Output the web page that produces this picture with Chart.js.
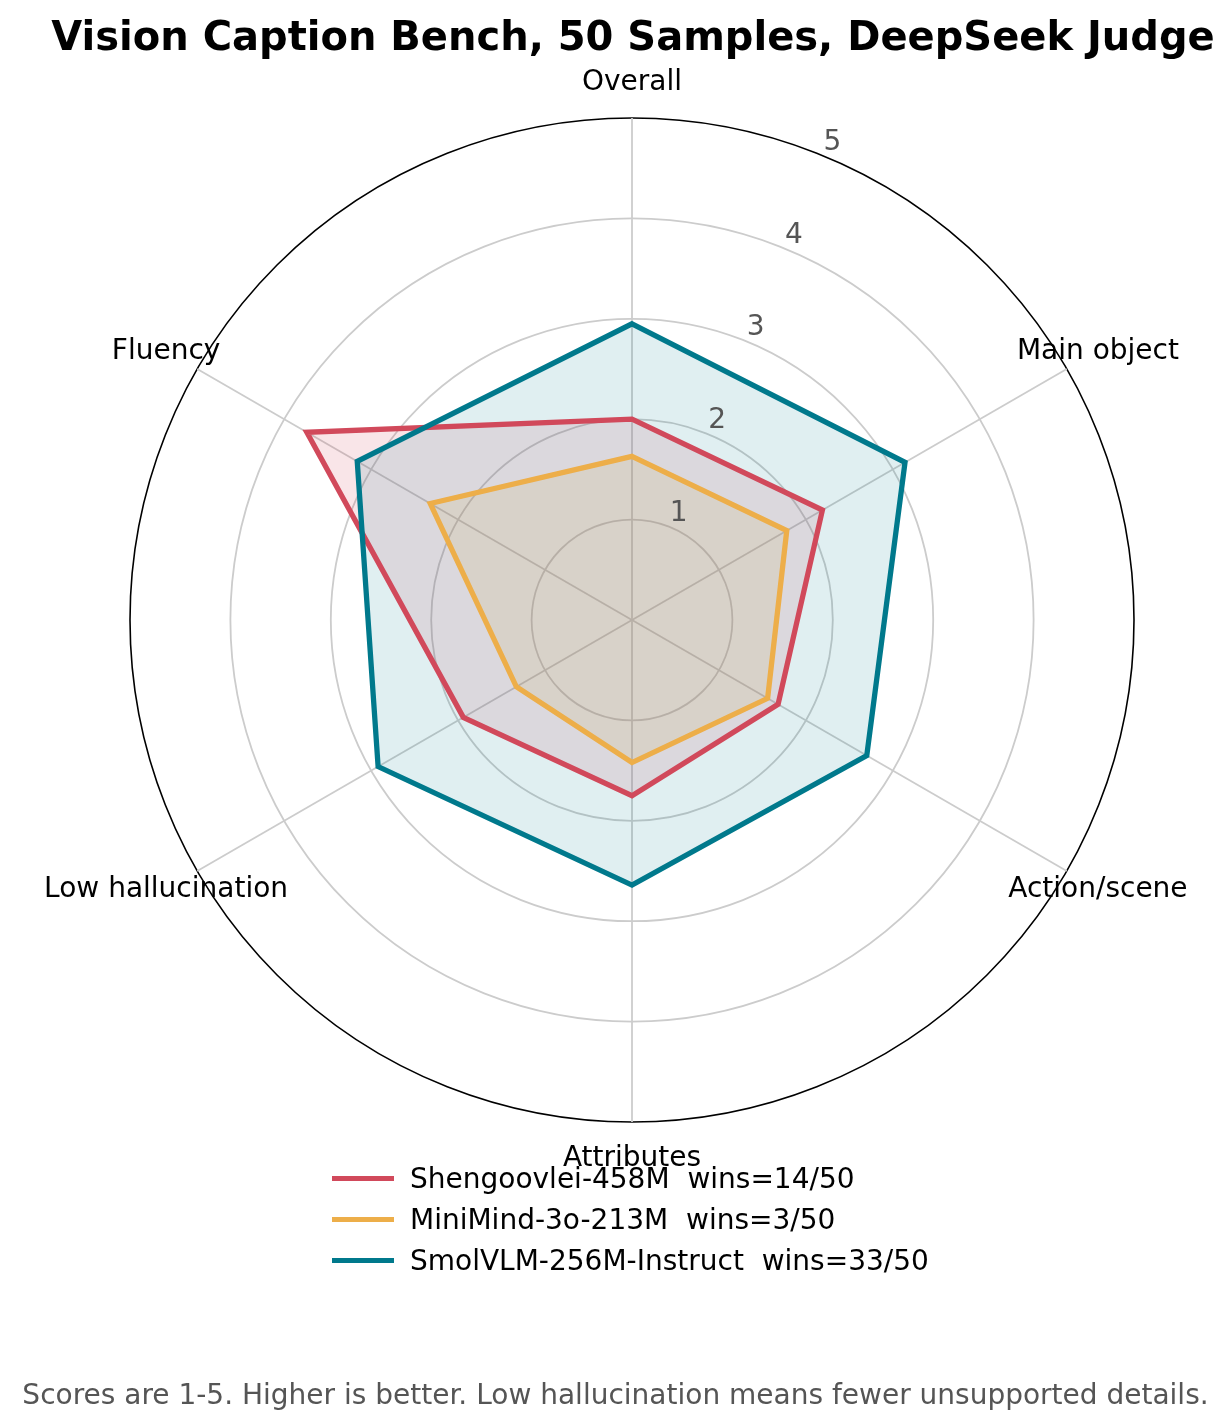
<!DOCTYPE html>
<html>
<head>
<meta charset="utf-8">
<script src="https://cdn.jsdelivr.net/npm/chart.js@4.4.1/dist/chart.umd.min.js"></script>
<style>
  body { margin: 0; background: #fff; font-family: "DejaVu Sans", sans-serif; }
  #wrap { position: relative; width: 1231px; height: 1428px; overflow: hidden; }
  #title { position: absolute; left: 0; width: 1266px; top: 12px; text-align: center; font-weight: bold; font-size: 40px; line-height: 48px; color: #000; white-space: nowrap; }
  #legend { position: absolute; left: 332px; top: 1158px; font-size: 28px; color: #000; }
  .row { height: 41px; display: flex; align-items: center; white-space: pre; }
  .swatch { width: 62px; height: 5px; margin-right: 16px; }
  #footer { position: absolute; left: 0; width: 1231px; top: 1378px; text-align: center; font-size: 28px; line-height: 34px; color: #555; white-space: nowrap; }
</style>
</head>
<body>
<div id="wrap">
  <div id="title">Vision Caption Bench, 50 Samples, DeepSeek Judge</div>
  <canvas id="radar" width="1231" height="1428"></canvas>
  <div id="legend"></div>
  <div id="footer">Scores are 1-5. Higher is better. Low hallucination means fewer unsupported details.</div>
</div>
<script>
const categories = ["Overall", "Main object", "Action/scene", "Attributes", "Low hallucination", "Fluency"];
const modelNames = ["Shengoovlei-458M  wins=14/50", "MiniMind-3o-213M  wins=3/50", "SmolVLM-256M-Instruct  wins=33/50"];
const shengoovleiScores = [2.0, 2.19, 1.68, 1.75, 1.94, 3.74];
const miniMindScores = [1.63, 1.78, 1.56, 1.42, 1.33, 2.32];
const smolVlmScores = [2.95, 3.14, 2.70, 2.64, 2.92, 3.16];
const tickValues = [1, 2, 3, 4, 5];

const colors = ["#d1495b", "#edae49", "#00798c"];
const fills = ["rgba(209,73,91,0.14)", "rgba(237,174,73,0.14)", "rgba(0,121,140,0.12)"];
const series = [shengoovleiScores, miniMindScores, smolVlmScores];

// labels de ticks y ejes dibujados a mano, estilo matplotlib
const polarLabels = {
  id: "polarLabels",
  afterDatasetsDraw(chart) {
    const scale = chart.scales.r;
    const ctx = chart.ctx;
    ctx.save();
    ctx.textAlign = "center";
    ctx.textBaseline = "middle";
    ctx.font = "28px 'DejaVu Sans'";
    ctx.fillStyle = "#555";
    const a = -Math.PI / 2 + Math.PI / 8;
    for (const v of tickValues) {
      const d = scale.getDistanceFromCenterForValue(v) + 19;
      ctx.fillText(String(v), scale.xCenter + Math.cos(a) * d + 1, scale.yCenter + Math.sin(a) * d + 4);
    }
    ctx.fillStyle = "#000";
    categories.forEach((label, i) => {
      const p = scale.getPointPosition(i, scale.drawingArea + 36);
      ctx.fillText(label, p.x, p.y + 1);
    });
    ctx.restore();
  },
};

new Chart(document.getElementById("radar"), {
  type: "radar",
  data: {
    labels: categories,
    datasets: series.map((s, i) => ({
      label: modelNames[i],
      data: s,
      borderColor: colors[i],
      backgroundColor: fills[i],
      borderWidth: 5.3,
      pointRadius: 0,
      fill: true,
      order: 3 - i,
    })),
  },
  options: {
    responsive: false,
    animation: false,
    devicePixelRatio: 1,
    layout: { padding: { left: 130, top: 118, right: 97, bottom: 306 } },
    plugins: {
      legend: { display: false },
      tooltip: { enabled: false },
      filler: { drawTime: "beforeDatasetsDraw" },
    },
    scales: {
      r: {
        min: 0,
        max: 5,
        ticks: { display: false, stepSize: 1 },
        pointLabels: { display: false },
        grid: {
          circular: true,
          color: (c) => (c.tick && c.tick.value === 5 ? "#000" : "#ccc"),
          lineWidth: (c) => (c.tick && c.tick.value === 5 ? 1.6 : 1.8),
        },
        angleLines: { color: "#ccc", lineWidth: 1.8 },
      },
    },
  },
  plugins: [polarLabels],
});

// leyenda en html
const legend = document.getElementById("legend");
modelNames.forEach((name, i) => {
  const row = document.createElement("div");
  row.className = "row";
  const sw = document.createElement("span");
  sw.className = "swatch";
  sw.style.background = colors[i];
  const txt = document.createElement("span");
  txt.textContent = name;
  row.appendChild(sw);
  row.appendChild(txt);
  legend.appendChild(row);
});
</script>
</body>
</html>
